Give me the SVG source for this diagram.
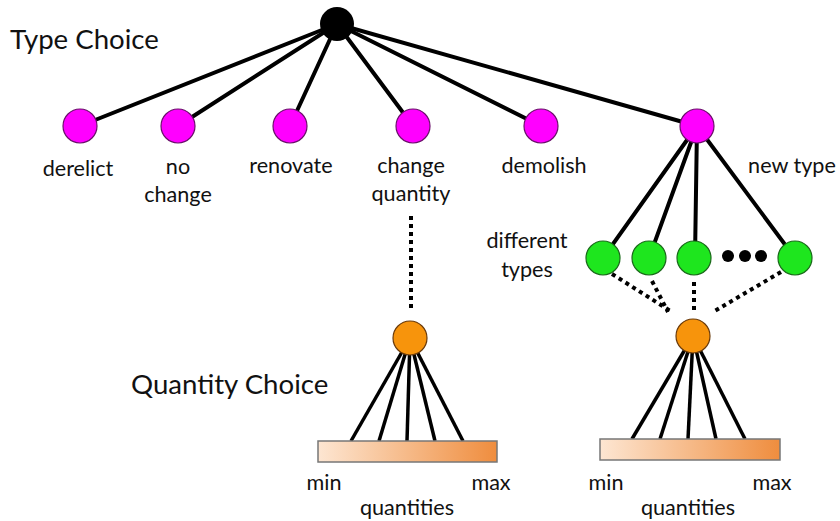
<svg xmlns="http://www.w3.org/2000/svg" width="840" height="521" viewBox="0 0 840 521">
<style>
text{font-family:Lato,"Open Sans","Liberation Sans",sans-serif;fill:#111;}
.lbl{font-size:21.6px;text-anchor:middle;}
.title{font-size:27.6px;}
.solid{stroke:#000;stroke-width:4;fill:none;stroke-linecap:round;}
.thin{stroke:#000;stroke-width:3.5;fill:none;}
.dot{stroke:#000;stroke-width:4;fill:none;stroke-dasharray:4 4;}
.mag{fill:#f0f;stroke:#6a106a;stroke-width:1.2;}
.grn{fill:#1ee61e;stroke:#1a6a1a;stroke-width:1.2;}
.org{fill:#f7940c;stroke:#6a3a0a;stroke-width:1.2;}
.bar{fill:url(#g);stroke:#777;stroke-width:1.5;}
</style>
<defs>
<linearGradient id="g" x1="0" y1="0" x2="1" y2="0">
<stop offset="0" stop-color="#fde6d2"/>
<stop offset="1" stop-color="#ef8d3e"/>
</linearGradient>
</defs>
<rect width="840" height="521" fill="#fff"/>
<g id="connectors">
<line class="solid" x1="337" y1="24" x2="80" y2="126"/>
<line class="solid" x1="337" y1="24" x2="178" y2="126"/>
<line class="solid" x1="337" y1="24" x2="290" y2="126"/>
<line class="solid" x1="337" y1="24" x2="413" y2="126"/>
<line class="solid" x1="337" y1="24" x2="541" y2="126"/>
<line class="solid" x1="337" y1="24" x2="697" y2="126"/>
<line class="solid" x1="697" y1="126" x2="603" y2="258"/>
<line class="solid" x1="697" y1="126" x2="649" y2="258"/>
<line class="solid" x1="697" y1="126" x2="695" y2="258"/>
<line class="solid" x1="697" y1="126" x2="795" y2="258"/>
<line class="dot" x1="411" y1="216" x2="411" y2="310"/>
<line class="dot" x1="612" y1="274" x2="672" y2="312"/>
<line class="dot" x1="652" y1="281" x2="668" y2="312"/>
<line class="dot" x1="694" y1="282" x2="694" y2="312"/>
<line class="dot" x1="781" y1="272" x2="713" y2="312"/>
<line class="thin" x1="410" y1="338" x2="351" y2="441"/>
<line class="thin" x1="410" y1="338" x2="379" y2="441"/>
<line class="thin" x1="410" y1="338" x2="407" y2="441"/>
<line class="thin" x1="410" y1="338" x2="435" y2="441"/>
<line class="thin" x1="410" y1="338" x2="463" y2="441"/>
<line class="thin" x1="693" y1="336" x2="632" y2="439"/>
<line class="thin" x1="693" y1="336" x2="660" y2="439"/>
<line class="thin" x1="693" y1="336" x2="688" y2="439"/>
<line class="thin" x1="693" y1="336" x2="716" y2="439"/>
<line class="thin" x1="693" y1="336" x2="745" y2="439"/>
</g>
<g id="root"><circle cx="337" cy="24" r="17" fill="#000"/></g>
<g id="derelict"><circle class="mag" cx="80" cy="126" r="17"/><text class="lbl" x="78" y="176">derelict</text></g>
<g id="nochange"><circle class="mag" cx="178" cy="126" r="17"/><text class="lbl" x="178" y="174">no</text><text class="lbl" x="178" y="202">change</text></g>
<g id="renovate"><circle class="mag" cx="290" cy="126" r="17"/><text class="lbl" x="291" y="173">renovate</text></g>
<g id="changequantity"><circle class="mag" cx="413" cy="126" r="17"/><text class="lbl" x="411" y="173">change</text><text class="lbl" x="411" y="201">quantity</text></g>
<g id="demolish"><circle class="mag" cx="541" cy="126" r="17"/><text class="lbl" x="544" y="173">demolish</text></g>
<g id="newtype"><circle class="mag" cx="697" cy="126" r="17"/><text class="lbl" x="792" y="173">new type</text></g>
<g id="types">
<circle class="grn" cx="603" cy="258" r="17"/>
<circle class="grn" cx="649" cy="258" r="17"/>
<circle class="grn" cx="694" cy="258" r="17"/>
<circle class="grn" cx="795" cy="258" r="17"/>
<circle cx="728" cy="256" r="6" fill="#000"/>
<circle cx="745" cy="256" r="6" fill="#000"/>
<circle cx="761" cy="256" r="6" fill="#000"/>
<text class="lbl" x="527" y="248">different</text>
<text class="lbl" x="527" y="277">types</text>
</g>
<g id="title-type"><text class="title" x="10" y="49">Type Choice</text></g>
<g id="title-quantity"><text class="title" x="131" y="394">Quantity Choice</text></g>
<g id="quantity-left">
<circle class="org" cx="410" cy="338" r="17"/>
<rect class="bar" x="318" y="441" width="179" height="21"/>
<text class="lbl" x="324" y="490">min</text>
<text class="lbl" x="491" y="490">max</text>
<text class="lbl" x="407" y="515">quantities</text>
</g>
<g id="quantity-right">
<circle class="org" cx="693" cy="336" r="17"/>
<rect class="bar" x="600" y="439" width="180" height="21"/>
<text class="lbl" x="606" y="490">min</text>
<text class="lbl" x="772" y="490">max</text>
<text class="lbl" x="688" y="515">quantities</text>
</g>
</svg>
